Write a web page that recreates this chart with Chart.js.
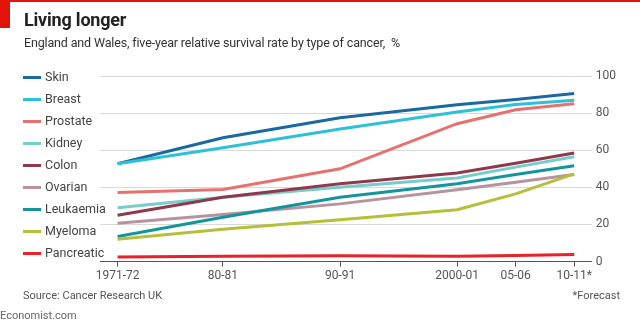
<!DOCTYPE html>
<html>
<head>
<meta charset="utf-8">
<script src="https://cdn.jsdelivr.net/npm/chart.js@4"></script>
<style>
body{margin:0;background:#fff;font-family:Roboto,"Open Sans",sans-serif;}
#wrap{position:relative;width:640px;height:321px;overflow:hidden;}
#topline{position:absolute;left:0;top:0;width:640px;height:2px;background:#e3120b;}
#redbox{position:absolute;left:0;top:0;width:10px;height:28px;background:#e3120b;}
#title{position:absolute;left:24px;top:9px;font-size:18px;font-weight:bold;color:#222;letter-spacing:-0.2px;}
#sub{position:absolute;left:24px;top:35px;font-size:12.5px;color:#333;letter-spacing:-0.15px;}
#legend{position:absolute;left:23px;top:0;}
.item{position:absolute;left:0;height:14px;white-space:nowrap;font-size:12.5px;color:#444;}
.sw{position:absolute;left:0;top:6px;width:18px;height:3px;}
.lab{position:absolute;left:22px;top:-1px;}
#src{position:absolute;left:23px;top:289px;font-size:11px;color:#555;}
#fc{position:absolute;right:20px;top:289px;font-size:11px;color:#555;}
#eco{position:absolute;left:0;top:309px;font-size:11px;color:#666;}
#c{position:absolute;left:0;top:0;}
</style>
</head>
<body>
<div id="wrap">
<canvas id="c" width="640" height="321"></canvas>
<div id="topline"></div>
<div id="redbox"></div>
<div id="title">Living longer</div>
<div id="sub">England and Wales, five-year relative survival rate by type of cancer,&nbsp; %</div>
<div id="legend"></div>
<div id="src">Source: Cancer Research UK</div>
<div id="fc">*Forecast</div>
<div id="eco">Economist.com</div>
</div>
<script>
let years=[1971,1980,1990,2000,2005,2010]
let yearLabels=["1971-72","80-81","90-91","2000-01","05-06","10-11*"]

let names=["Skin","Breast","Prostate","Kidney","Colon","Ovarian","Leukaemia","Myeloma","Pancreatic"]
let colors=["#1a6aa0","#2ec0d6","#e6716f","#76cdc9","#8e3a4d","#b7929f","#14959c","#b5bf3a","#e8212a"]

let skin=[52.7,66.7,77.5,84.5,87.4,90.6]
let breast=[52.7,61.3,71.4,80.6,84.7,86.9]
let prostate=[37.2,38.8,50,74.3,81.8,85.1]
let kidney=[29,34.7,40.1,45.1,50.9,56.5]
let colon=[25,34.7,41.9,47.7,53,58.5]
let ovarian=[20.7,25.4,31.1,38.7,42.8,46.9]
let leukaemia=[13.5,23.9,34.7,41.9,46.9,51.6]
let myeloma=[12,17.4,22.5,27.9,36.5,47.3]
let pancreatic=[2.5,2.9,3.2,2.9,3.3,3.8]

let series=[skin,breast,prostate,kidney,colon,ovarian,leukaemia,myeloma,pancreatic]

let yTicks=[0,20,40,60,80,100]

// legend
let leg=document.getElementById("legend")
for(let i=0;i<names.length;i++){
let d=document.createElement("div")
d.className="item"
d.style.top=(70+i*22)+"px"
d.innerHTML='<div class="sw" style="background:'+colors[i]+'"></div><div class="lab">'+names[i]+'</div>'
leg.appendChild(d)
}

let datasets=[]
for(let i=series.length-1;i>=0;i--){
datasets.push({
label:names[i],
data:series[i].map((v,j)=>({x:years[j],y:v})),
borderColor:colors[i],
borderWidth:3,
pointRadius:0,
tension:0,
fill:false
})
}

new Chart(document.getElementById("c"),{
type:"line",
data:{datasets:datasets},
options:{
responsive:false,
animation:false,
layout:{padding:{left:100,top:76,right:20,bottom:36}},
plugins:{legend:{display:false},tooltip:{enabled:false}},
scales:{
x:{
type:"linear",
min:1969.5,
max:2011.5,
afterBuildTicks:function(ax){ax.ticks=years.map(v=>({value:v}))},
ticks:{
callback:function(v){let k=years.indexOf(v);return k>=0?yearLabels[k]:""},
color:"#555",
font:{family:"Roboto",size:12},
padding:2,
maxRotation:0,
autoSkip:false
},
grid:{drawOnChartArea:false,drawTicks:true,tickLength:5,color:"#555"},
border:{display:true,color:"#555",width:1}
},
y:{
position:"right",
min:0,
max:100,
afterBuildTicks:function(ax){ax.ticks=yTicks.map(v=>({value:v}))},
ticks:{color:"#555",font:{family:"Roboto",size:12},padding:4},
grid:{color:"#d9d9d9",lineWidth:1,drawTicks:false},
border:{display:false}
}
}
}
})
</script>
</body>
</html>
